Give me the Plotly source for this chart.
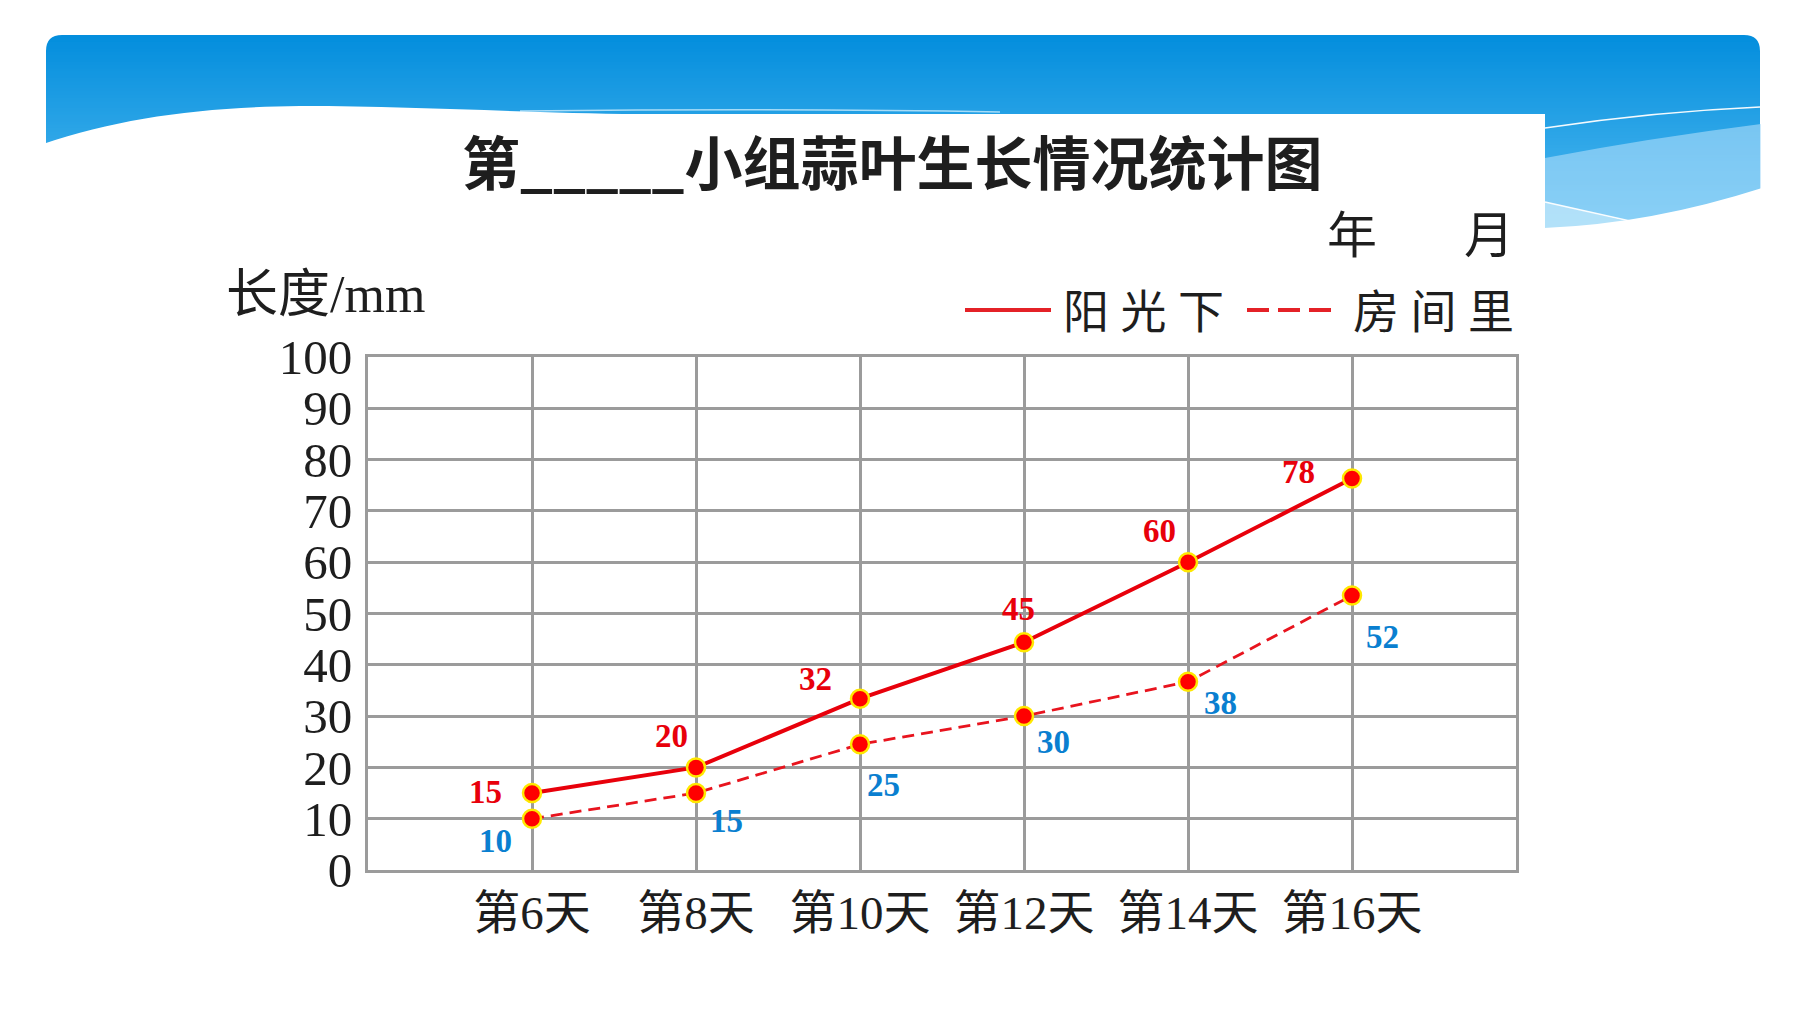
import plotly.graph_objects as go

# ---------------- data ----------------
days = ["第6天", "第8天", "第10天", "第12天", "第14天", "第16天"]
sun_values = [15, 20, 33.4, 44.4, 60, 76.3]          # plotted positions (阳光下)
sun_labels = ["15", "20", "32", "45", "60", "78"]
room_values = [10, 15, 24.5, 30, 36.7, 53.5]          # plotted positions (房间里)
room_labels = ["10", "15", "25", "30", "38", "52"]
y_ticks = [0, 10, 20, 30, 40, 50, 60, 70, 80, 90, 100]

# ---------------- layout geometry (pixels, target image frame) ----------------
W, H = 1800, 1012
PAGE = 8                                # page body margin in the browser
X0, X1, Y0, Y1 = 368, 1516, 357, 870   # plot area: left, right, top, bottom


def px(x):
    return (x - X0) / (X1 - X0)


def py(y):
    return (Y1 - y) / (Y1 - Y0)


def path(cmds):
    out = []
    for c in cmds:
        if isinstance(c, str):
            out.append(c)
        else:
            out.append(f"{px(c[0]):.5f},{py(c[1]):.5f}")
    return " ".join(out)


shapes = []

# banner gradient bands
BT, BB, BL, BR = 35, 234, 46, 1760
c0 = (4, 142, 221)
c1 = (84, 188, 241)
N = 60
for i in range(N):
    ya = BT + (BB - BT) * i / N
    yb = BT + (BB - BT) * (i + 1) / N + 0.8
    t = i / (N - 1)
    col = tuple(int(round(c0[k] + (c1[k] - c0[k]) * t)) for k in range(3))
    shapes.append(dict(type="rect", xref="paper", yref="paper",
                       x0=px(BL), x1=px(BR), y0=py(yb), y1=py(ya),
                       fillcolor=f"rgb{col}", line=dict(width=0), layer="below"))

# light regions on the right
shapes.append(dict(type="path", xref="paper", yref="paper", layer="below",
                   path=path(["M", (1545, 158), "Q", (1650, 138), (1761, 124), "L", (1761, 240), "L", (1545, 240), "Z"]),
                   fillcolor="rgba(175,222,250,0.6)", line=dict(width=0)))
shapes.append(dict(type="path", xref="paper", yref="paper", layer="below",
                   path=path(["M", (1545, 202), "L", (1630, 222), "L", (1545, 236), "Z"]),
                   fillcolor="rgba(205,236,252,0.6)", line=dict(width=0)))
# thin white wave lines
shapes.append(dict(type="path", xref="paper", yref="paper", layer="below",
                   path=path(["M", (1545, 128), "Q", (1650, 112), (1760, 107)]),
                   line=dict(color="rgba(255,255,255,0.95)", width=1.6)))
shapes.append(dict(type="path", xref="paper", yref="paper", layer="below",
                   path=path(["M", (1545, 202), "L", (1630, 221)]),
                   line=dict(color="rgba(255,255,255,0.95)", width=1.6)))
shapes.append(dict(type="path", xref="paper", yref="paper", layer="below",
                   path=path(["M", (520, 111), "Q", (800, 108), (1000, 112)]),
                   line=dict(color="rgba(200,235,252,0.8)", width=1.5)))

# rounded corner masks
r = 16
shapes.append(dict(type="path", xref="paper", yref="paper", layer="below",
                   path=path(["M", (BL - 1, BT - 1), "L", (BL + r, BT - 1), "L", (BL + r, BT), "Q", (BL, BT), (BL, BT + r), "L", (BL - 1, BT + r), "Z"]),
                   fillcolor="white", line=dict(width=0)))
shapes.append(dict(type="path", xref="paper", yref="paper", layer="below",
                   path=path(["M", (BR + 1, BT - 1), "L", (BR - r, BT - 1), "L", (BR - r, BT), "Q", (BR, BT), (BR, BT + r), "L", (BR + 1, BT + r), "Z"]),
                   fillcolor="white", line=dict(width=0)))

# white wave + white card on left/center
shapes.append(dict(type="path", xref="paper", yref="paper", layer="below",
                   path=path(["M", (43, 144), "C", (120, 118), (200, 107), (300, 106),
                              "C", (420, 106), (520, 113), (640, 114),
                              "L", (1545, 114), "L", (1545, 270), "L", (43, 270), "Z"]),
                   fillcolor="white", line=dict(width=0)))
# white below banner on the right
shapes.append(dict(type="path", xref="paper", yref="paper", layer="below",
                   path=path(["M", (1544, 228), "Q", (1650, 224), (1762, 188), "L", (1762, 270), "L", (1544, 270), "Z"]),
                   fillcolor="white", line=dict(width=0)))

# legend keys
shapes.append(dict(type="line", xref="paper", yref="paper",
                   x0=px(965), x1=px(1051), y0=py(310), y1=py(310),
                   line=dict(color="#e42127", width=4)))
shapes.append(dict(type="line", xref="paper", yref="paper",
                   x0=px(1247), x1=px(1333), y0=py(310), y1=py(310),
                   line=dict(color="#e42127", width=4, dash="22px,9px")))

fig = go.Figure()

MARK = dict(size=18, color="#ff0000", line=dict(color="#ffe800", width=2.5))
fig.add_trace(go.Scatter(x=days, y=sun_values, mode="lines+markers",
                         line=dict(color="#e8000b", width=4),
                         marker=MARK, showlegend=False, hoverinfo="skip"))
fig.add_trace(go.Scatter(x=days, y=room_values, mode="lines+markers",
                         line=dict(color="#e8141e", width=2.8, dash="12px,7px"),
                         marker=MARK, showlegend=False, hoverinfo="skip"))

# label offsets (pixels, screen right/down)
sun_off = [(-47, -1), (-25, -31), (-45, -20), (-6, -33), (-29, -31), (-54, -7)]
room_off = [(-37, 22), (30, 28), (23, 41), (29, 26), (32, 21), (30, 41)]

annotations = []
LBL_FONT = "Liberation Serif, Times New Roman, serif"
for d, v, t, (dx, dy) in zip(days, sun_values, sun_labels, sun_off):
    annotations.append(dict(x=d, y=v, xref="x", yref="y", text=f"<b>{t}</b>", showarrow=False,
                            xshift=dx, yshift=-dy, font=dict(family=LBL_FONT, size=33, color="#e8000b")))
for d, v, t, (dx, dy) in zip(days, room_values, room_labels, room_off):
    annotations.append(dict(x=d, y=v, xref="x", yref="y", text=f"<b>{t}</b>", showarrow=False,
                            xshift=dx, yshift=-dy, font=dict(family=LBL_FONT, size=33, color="#0a7fd0")))

TXT_FONT = "Liberation Serif, Noto Sans CJK SC"
# title
annotations.append(dict(x=px(892), y=py(160), xref="paper", yref="paper", xanchor="center", yanchor="middle",
                        text="<b>第_____小组蒜叶生长情况统计图</b>", showarrow=False,
                        font=dict(family="Noto Sans CJK SC", size=58, color="#1e1e1e")))
# year / month
annotations.append(dict(x=px(1352), y=py(236), xref="paper", yref="paper", xanchor="center", yanchor="middle",
                        text="年", showarrow=False, font=dict(family=TXT_FONT, size=50, color="#1e1e1e")))
annotations.append(dict(x=px(1489), y=py(236), xref="paper", yref="paper", xanchor="center", yanchor="middle",
                        text="月", showarrow=False, font=dict(family=TXT_FONT, size=50, color="#1e1e1e")))
# y axis unit
annotations.append(dict(x=px(224), y=py(294), xref="paper", yref="paper", xanchor="left", yanchor="middle",
                        text="长度/mm", showarrow=False, font=dict(family=TXT_FONT, size=52, color="#1e1e1e")))
# legend texts
annotations.append(dict(x=px(1143), y=py(312), xref="paper", yref="paper", xanchor="center", yanchor="middle",
                        text="阳 光 下", showarrow=False, font=dict(family=TXT_FONT, size=46, color="#1e1e1e")))
annotations.append(dict(x=px(1433), y=py(312), xref="paper", yref="paper", xanchor="center", yanchor="middle",
                        text="房 间 里", showarrow=False, font=dict(family=TXT_FONT, size=46, color="#1e1e1e")))

GRID = "#9b9b9b"
fig.update_layout(
    width=W, height=H,
    margin=dict(l=X0 - PAGE, r=W - (X1 - PAGE), t=Y0 - PAGE, b=H - (Y1 - PAGE), pad=0),
    paper_bgcolor="white", plot_bgcolor="white",
    shapes=shapes, annotations=annotations,
    showlegend=False,
    xaxis=dict(type="category", categoryorder="array", categoryarray=days, range=[-1, len(days)],
               showgrid=True, gridcolor=GRID, gridwidth=3,
               showline=True, linecolor=GRID, linewidth=3, mirror=True,
               ticks="", ticklabelstandoff=0,
               tickfont=dict(family=TXT_FONT, size=47, color="#1e1e1e"),
               fixedrange=True),
    yaxis=dict(range=[0, 100], tickvals=y_ticks, ticktext=[str(v) for v in y_ticks],
               showgrid=True, gridcolor=GRID, gridwidth=3, zeroline=False,
               showline=True, linecolor=GRID, linewidth=3, mirror=True,
               ticks="", ticklabelstandoff=3,
               tickfont=dict(family="Liberation Serif, serif", size=49, color="#1e1e1e"),
               fixedrange=True),
)

fig.write_html("out.html")
